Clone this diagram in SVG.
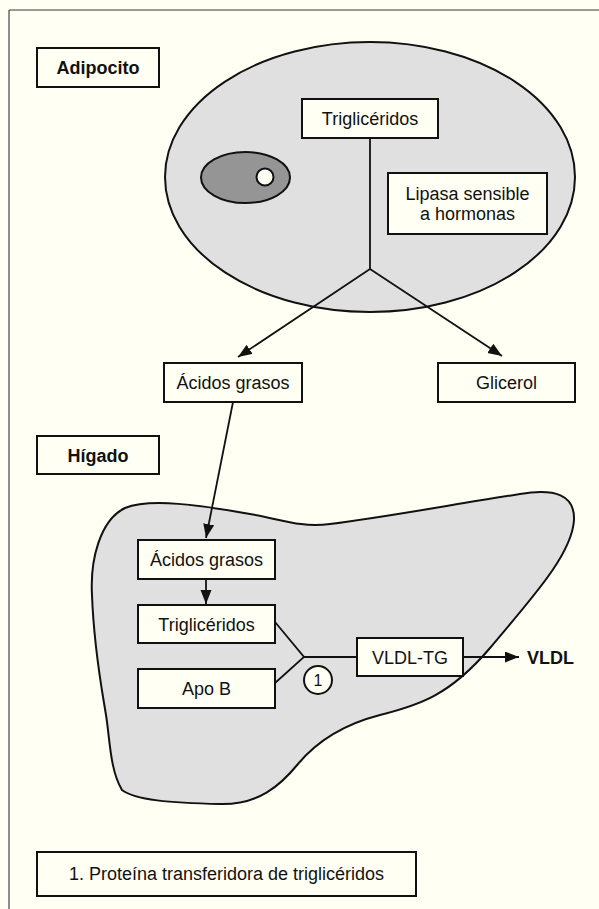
<svg xmlns="http://www.w3.org/2000/svg" width="599" height="909" viewBox="0 0 599 909">
<style>
.bg{fill:#fffff4}
.box{fill:#fffff4;stroke:#111;stroke-width:2}
.cell{fill:#e0e0e0;stroke:#111;stroke-width:2}
.t{font-family:"Liberation Sans",Arial,sans-serif;font-size:18px;fill:#111;text-anchor:middle}
.b{font-weight:bold}
.ln{stroke:#111;stroke-width:1.8;fill:none}
.arr{marker-end:url(#ah)}
</style>
<defs>
<marker id="ah" markerUnits="userSpaceOnUse" markerWidth="15" markerHeight="12" refX="14" refY="5.5" orient="auto">
<path d="M0,0 L14,5.5 L0,11 Z" fill="#111"/>
</marker>
</defs>
<rect class="bg" x="0" y="0" width="599" height="909"/>
<line x1="9" y1="10" x2="599" y2="10" stroke="#7a7a7a" stroke-width="1.5"/>
<line x1="9" y1="10" x2="9" y2="909" stroke="#444" stroke-width="1.2"/>

<g id="adipocyte">
<ellipse class="cell" cx="370" cy="177" rx="205" ry="135"/>
<ellipse cx="245.5" cy="177.5" rx="44.5" ry="25.5" fill="#959595" stroke="#111" stroke-width="2"/>
<circle cx="265" cy="177" r="8.5" fill="#fffff4" stroke="#111" stroke-width="2"/>
</g>

<g id="liver">
<path class="cell" d="M92,595 C90,560 100,520 125,508 C150,498 200,505 250,514 C280,519 300,528 330,524 C380,518 450,505 520,494 C555,488 575,495 574,520 C572,555 530,600 490,648 C450,695 420,705 380,715 C345,724 318,740 298,764 C280,786 258,805 220,804 C170,803 135,800 122,790 C110,770 110,740 106,715 C102,690 94,650 92,595 Z"/>
</g>

<g id="connectors">
<line class="ln" x1="370" y1="138" x2="370" y2="269"/>
<line class="ln arr" x1="370" y1="269" x2="238" y2="357"/>
<line class="ln arr" x1="370" y1="269" x2="502" y2="356"/>
<line class="ln arr" x1="233" y1="402" x2="206" y2="538"/>
<line class="ln arr" x1="206" y1="579" x2="206" y2="604"/>
<polyline class="ln" points="275,622 304,657 275,683"/>
<line class="ln" x1="304" y1="657" x2="357" y2="657"/>
<line class="ln arr" x1="463" y1="657" x2="519" y2="657"/>
</g>

<g id="label-adipocito">
<rect class="box" x="37" y="48" width="122" height="39"/>
<text class="t b" x="98" y="74">Adipocito</text>
</g>
<g id="trigliceridos-1">
<rect class="box" x="302" y="99" width="136" height="39"/>
<text class="t" x="370" y="125">Triglicéridos</text>
</g>
<g id="lipasa">
<rect class="box" x="388" y="173" width="159" height="61"/>
<text class="t" x="467.5" y="199.5">Lipasa sensible</text>
<text class="t" x="467.5" y="219.5">a hormonas</text>
</g>
<g id="acidos-grasos-1">
<rect class="box" x="164" y="363" width="138" height="39"/>
<text class="t" x="233" y="389">Ácidos grasos</text>
</g>
<g id="glicerol">
<rect class="box" x="438" y="363" width="137" height="39"/>
<text class="t" x="506.5" y="389">Glicerol</text>
</g>
<g id="label-higado">
<rect class="box" x="37" y="436" width="122" height="38"/>
<text class="t b" x="98" y="461.5">Hígado</text>
</g>
<g id="acidos-grasos-2">
<rect class="box" x="138" y="540" width="137" height="39"/>
<text class="t" x="206.5" y="566">Ácidos grasos</text>
</g>
<g id="trigliceridos-2">
<rect class="box" x="138" y="605" width="137" height="38"/>
<text class="t" x="206.5" y="630.5">Triglicéridos</text>
</g>
<g id="apo-b">
<rect class="box" x="138" y="669" width="137" height="39"/>
<text class="t" x="206.5" y="695">Apo B</text>
</g>
<g id="marker-1">
<circle cx="318" cy="680" r="14" fill="#fffff4" stroke="#111" stroke-width="2"/>
<text class="t" x="318" y="686" style="font-size:16px">1</text>
</g>
<g id="vldl-tg">
<rect class="box" x="357" y="638" width="106" height="38"/>
<text class="t" x="410" y="663.5">VLDL-TG</text>
</g>
<g id="vldl">
<text class="t b" x="527" y="663.5" style="text-anchor:start">VLDL</text>
</g>
<g id="footnote">
<rect class="box" x="37" y="852" width="379" height="44"/>
<text class="t" x="226.5" y="880">1. Proteína transferidora de triglicéridos</text>
</g>
</svg>
